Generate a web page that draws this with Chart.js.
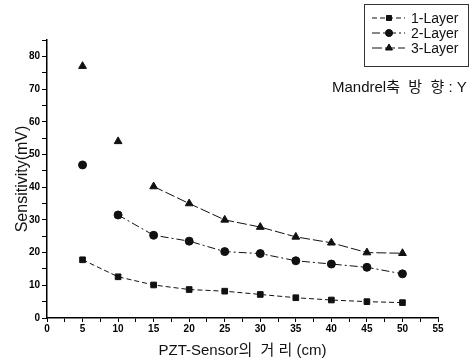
<!DOCTYPE html>
<html>
<head>
<meta charset="utf-8">
<script src="https://cdn.jsdelivr.net/npm/chart.js@4/dist/chart.umd.min.js"></script>
<style>
  html, body { margin: 0; padding: 0; background: #fff; }
  #wrap { width: 475px; height: 364px; position: relative; }
</style>
</head>
<body>
<div id="wrap"><canvas id="chart1"></canvas></div>
<script>
var distances = [5, 10, 15, 20, 25, 30, 35, 40, 45, 50];
var layer1 = [17.8, 12.6, 10.1, 8.7, 8.2, 7.2, 6.2, 5.5, 5.0, 4.7];
var layer2 = [46.8, 31.5, 25.3, 23.5, 20.3, 19.7, 17.5, 16.5, 15.5, 13.5];
var layer3 = [77, 54, 40.2, 35, 30, 27.8, 24.8, 23, 20, 19.8];
var seriesNames = ["1-Layer", "2-Layer", "3-Layer"];

var FONT = "'Liberation Sans', Arial, sans-serif";
var KFONT = "'Liberation Sans', 'Noto Sans CJK KR', sans-serif";

function points(vals) {
  return vals.map(function (v, i) { return { x: distances[i], y: v }; });
}

// the scan lost the first segments of 2-Layer and 3-Layer
function hideBefore(n) {
  return { borderColor: function (c) { return c.p0DataIndex < n ? "rgba(0,0,0,0)" : undefined; } };
}

var legendBox = {
  id: "legendBox",
  afterDraw: function (chart) {
    var ctx = chart.ctx;
    var ds = chart.data.datasets;
    ctx.save();
    ctx.strokeStyle = "#333";
    ctx.lineWidth = 1;
    ctx.setLineDash([]);
    ctx.strokeRect(364.5, 4.5, 104, 62);
    for (var i = 0; i < ds.length; i++) {
      var y = 18 + i * 15;
      ctx.strokeStyle = "#111";
      ctx.setLineDash(ds[i].borderDash);
      ctx.beginPath();
      ctx.moveTo(372, y);
      ctx.lineTo(405, y);
      ctx.stroke();
      ctx.setLineDash([]);
      Chart.helpers.drawPoint(ctx, { pointStyle: ds[i].pointStyle, radius: ds[i].pointRadius - 0.5, borderWidth: 1 }, 389, y);
      ctx.fillStyle = "#111";
      ctx.fill();
      ctx.font = "14px " + FONT;
      ctx.textBaseline = "middle";
      ctx.textAlign = "left";
      ctx.fillText(ds[i].label, 411, y + 1);
    }
    ctx.font = "15px " + KFONT;
    ctx.fillText("Mandrel축  방  향 : Y", 332, 88);
    ctx.restore();
  }
};

function drawGraph() {
  var ctx = document.getElementById("chart1").getContext("2d");
  var common = { borderColor: "#111", backgroundColor: "#111", borderWidth: 1, pointBorderColor: "#111", pointBackgroundColor: "#111", fill: false, tension: 0 };
  var myChart = new Chart(ctx, {
    type: "line",
    data: {
      datasets: [
        Object.assign({}, common, { label: seriesNames[0], data: points(layer1), pointStyle: "rect", pointRadius: 4, borderDash: [5, 3] }),
        Object.assign({}, common, { label: seriesNames[1], data: points(layer2), pointStyle: "circle", pointRadius: 4, borderDash: [8, 3, 2, 3], segment: hideBefore(1) }),
        Object.assign({}, common, { label: seriesNames[2], data: points(layer3), pointStyle: "triangle", pointRadius: 4.5, borderDash: [10, 3], segment: hideBefore(2) }),
      ],
    },
    options: {
      responsive: true,
      maintainAspectRatio: false,
      animation: false,
      layout: { padding: { top: 40, right: 37, left: 9, bottom: 0 } },
      plugins: { legend: { display: false }, tooltip: { enabled: false } },
      scales: {
        x: {
          type: "linear",
          min: 0,
          max: 55,
          afterBuildTicks: function (s) {
            var t = [];
            for (var v = 0; v <= 55; v += 2.5) t.push({ value: v });
            s.ticks = t;
          },
          afterFit: function (s) { s.height = 46; },
          border: { color: "#000", width: 1.5 },
          grid: { drawOnChartArea: false, color: "#000", tickLength: 4 },
          ticks: {
            color: "#000",
            padding: 1,
            maxRotation: 0,
            autoSkip: false,
            font: { family: FONT, size: 10, weight: "bold" },
            callback: function (v) { return v % 5 === 0 ? v : ""; },
          },
          title: { display: true, text: "PZT-Sensor의  거 리 (cm)", color: "#111", padding: { top: 3 }, font: { family: KFONT, size: 15 } },
        },
        y: {
          min: 0,
          max: 85,
          afterBuildTicks: function (s) {
            var t = [];
            for (var v = 0; v <= 85; v += 5) t.push({ value: v });
            s.ticks = t;
          },
          afterFit: function (s) { s.width = 38; },
          border: { color: "#000", width: 1.5 },
          grid: { drawOnChartArea: false, color: "#000", tickLength: 5 },
          ticks: {
            color: "#000",
            padding: 2,
            autoSkip: false,
            font: { family: FONT, size: 10, weight: "bold" },
            callback: function (v) { return v % 10 === 0 ? v : ""; },
          },
          title: { display: true, text: "Sensitivity(mV)", color: "#111", padding: { bottom: 0 }, font: { family: FONT, size: 16 } },
        },
      },
    },
    plugins: [legendBox],
  });
}
window.onload = drawGraph;
</script>
</body>
</html>
